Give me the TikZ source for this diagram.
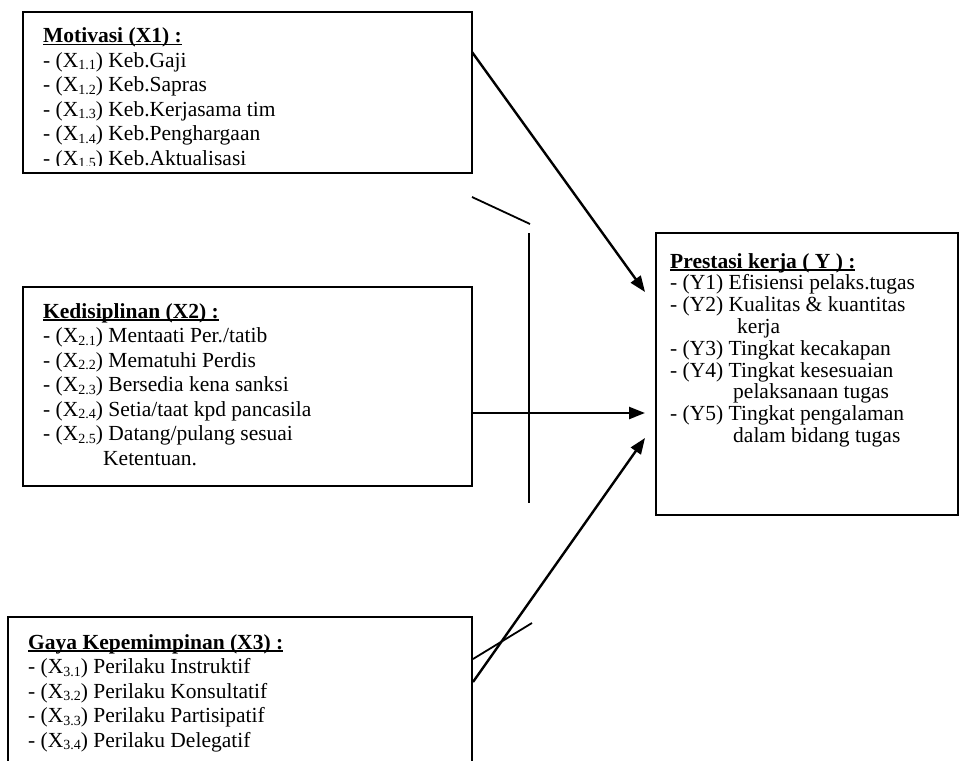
\documentclass[tikz,border=0pt]{standalone}
\usepackage{fontspec}
\setmainfont{Liberation Serif}
\usetikzlibrary{arrows.meta}
\newcommand{\sbs}[1]{\raisebox{-0.3ex}{\fontsize{14}{14}\selectfont #1}}
\newcommand{\ttl}[1]{\setbox0\hbox{\textbf{#1}}\rlap{\rule[-2.6pt]{\wd0}{1.3pt}}\box0}
\begin{document}
\begin{tikzpicture}[x=1pt,y=-1pt,
  box/.style={draw, line width=1.8pt, inner sep=0pt, outer sep=0pt, anchor=north west},
  lst/.style={anchor=base west, align=left, inner sep=0pt, font=\fontsize{21.5}{24.5}\selectfont},
  lstY/.style={lst, font=\fontsize{21.5}{21.8}\selectfont},
  arr/.style={line width=2.4pt, -{Triangle[length=16pt,width=12pt]}},
  deco/.style={line width=1.8pt}]
\useasboundingbox (0,0) rectangle (960,760);
\clip (0,0) rectangle (960,760);

% boxes
\node[box, minimum width=449pt, minimum height=161pt] (b1) at (23,12) {};
\node[box, minimum width=449pt, minimum height=199pt] (b2) at (23,287) {};
\node[box, minimum width=464pt, minimum height=160pt] (b3) at (8,617) {};
\node[box, minimum width=302pt, minimum height=282pt] (bY) at (656,233) {};

% texts (anchored at the baseline of their last line)
\begin{scope}
\clip (23,12) rectangle (472,165);
\node[lst] (t1) at (43,165) {\ttl{Motivasi (X1) :}\\
- (X\sbs{1.1}) Keb.Gaji\\
- (X\sbs{1.2}) Keb.Sapras\\
- (X\sbs{1.3}) Keb.Kerjasama tim\\
- (X\sbs{1.4}) Keb.Penghargaan\\
- (X\sbs{1.5}) Keb.Aktualisasi};
\end{scope}

\node[lst] (t2) at (43,465) {\ttl{Kedisiplinan (X2) :}\\
- (X\sbs{2.1}) Mentaati Per./tatib\\
- (X\sbs{2.2}) Mematuhi Perdis\\
- (X\sbs{2.3}) Bersedia kena sanksi\\
- (X\sbs{2.4}) Setia/taat kpd pancasila\\
- (X\sbs{2.5}) Datang/pulang sesuai\\
\hspace*{60pt}Ketentuan.};

\node[lst] (t3) at (28,747) {\ttl{Gaya Kepemimpinan (X3) :}\\
- (X\sbs{3.1}) Perilaku Instruktif\\
- (X\sbs{3.2}) Perilaku Konsultatif\\
- (X\sbs{3.3}) Perilaku Partisipatif\\
- (X\sbs{3.4}) Perilaku Delegatif};

\node[lstY] (tY) at (670,442.5) {\ttl{Prestasi kerja ( Y ) :}\\
- (Y1) Efisiensi pelaks.tugas\\
- (Y2) Kualitas \& kuantitas\\
\hspace*{67pt}kerja\\
- (Y3) Tingkat kecakapan\\
- (Y4) Tingkat kesesuaian\\
\hspace*{63pt}pelaksanaan tugas\\
- (Y5) Tingkat pengalaman\\
\hspace*{63pt}dalam bidang tugas};

% connector end points
\coordinate (a1s) at (472,52);
\coordinate (a1e) at (645,292);
\coordinate (a2s) at (472,413);
\coordinate (a2e) at (645,413);
\coordinate (a3s) at (473,682);
\coordinate (a3e) at (645,438);

\draw[arr] (a1s) -- (a1e);
\draw[arr] (a2s) -- (a2e);
\draw[arr] (a3s) -- (a3e);

% loose strokes
\coordinate (l1a) at (472,197);
\coordinate (l1b) at (530,224);
\coordinate (l2a) at (529,233);
\coordinate (l2b) at (529,503);
\coordinate (l3a) at (473,659);
\coordinate (l3b) at (532,623);
\draw[deco] (l1a) -- (l1b);
\draw[deco] (l2a) -- (l2b);
\draw[deco] (l3a) -- (l3b);
\end{tikzpicture}
\end{document}
